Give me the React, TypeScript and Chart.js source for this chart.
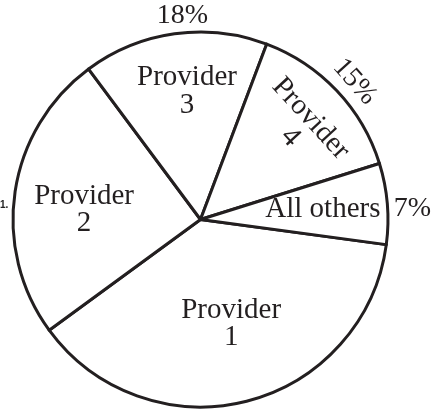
import React, { useEffect, useRef } from 'react';
import { Chart, ArcElement, PieController } from 'chart.js';

Chart.register(ArcElement, PieController);

// slices, clockwise from Provider 1
const categories = ['Provider 1', 'Provider 2', 'Provider 3', 'Provider 4', 'All others'];
const shares = [38, 25, 16, 14.5, 7];
const percentLabels = ['', '', '18%', '15%', '7%'];
const sliceLines = [['Provider', '1'], ['Provider', '2'], ['Provider', '3'], ['Provider', '4'], ['All others']];

const ink = '#231f20';

// where the text sits: angle nudge (deg) from slice middle, radius as part of outer radius
const innerPlace = [
  { da: -2.1, r: 0.581, turn: false },
  { da: -3.9, r: 0.623, turn: false },
  { da: 1.95, r: 0.686, turn: false },
  { da: 0.83, r: 0.723, turn: true },
  { da: 0, r: 0.655, turn: false },
];
const outerPlace = [
  { da: 0, r: 1.1, turn: false },
  { da: 0, r: 1.1, turn: false },
  { da: 2.9, r: 1.091, turn: false },
  { da: 1.6, r: 1.103, turn: true },
  { da: 2.0, r: 1.132, turn: false },
];

const sliceText = {
  id: 'sliceText',
  afterDatasetsDraw(chart: any) {
    const ctx = chart.ctx as CanvasRenderingContext2D;
    const arcs = chart.getDatasetMeta(0).data;
    const put = (arc: any, lines: string[], place: any, font: string) => {
      const { x, y, startAngle, endAngle, outerRadius } = arc.getProps(
        ['x', 'y', 'startAngle', 'endAngle', 'outerRadius'],
        true
      );
      const a = (startAngle + endAngle) / 2 + (place.da * Math.PI) / 180;
      const px = x + Math.cos(a) * outerRadius * place.r;
      const py = y + Math.sin(a) * outerRadius * place.r;
      ctx.save();
      ctx.translate(px, py);
      if (place.turn) ctx.rotate(a + Math.PI / 2);
      ctx.font = font;
      ctx.fillStyle = ink;
      ctx.textAlign = 'center';
      ctx.textBaseline = 'middle';
      const lh = 27.5;
      lines.forEach((line, k) => {
        ctx.fillText(line, 0, (k - (lines.length - 1) / 2) * lh);
      });
      ctx.restore();
    };
    arcs.forEach((arc: any, i: number) => {
      put(arc, sliceLines[i], innerPlace[i], '29px "Liberation Serif"');
      if (percentLabels[i]) put(arc, [percentLabels[i]], outerPlace[i], '28px "Liberation Serif"');
    });
  },
};

const PieChart: React.FC = () => {
  const chartRef = useRef<HTMLCanvasElement>(null);

  useEffect(() => {
    if (!chartRef.current) return;
    const context = chartRef.current.getContext('2d');
    if (!context) return;

    const pie = new Chart(context, {
      type: 'pie',
      data: {
        labels: categories,
        datasets: [
          {
            data: shares,
            backgroundColor: '#ffffff',
            borderColor: ink,
            borderWidth: 3,
            borderJoinStyle: 'round',
          },
        ],
      },
      options: {
        animation: false,
        responsive: true,
        maintainAspectRatio: false,
        events: [],
        rotation: 97.7,
        radius: 187.5,
        layout: { padding: { left: 0, right: 43, top: 25, bottom: 0 } },
        plugins: {
          legend: { display: false },
          tooltip: { enabled: false },
        },
      } as any,
      plugins: [sliceText],
    });

    return () => {
      pie.destroy();
    };
  }, []);

  return (
    <div style={{ position: 'absolute', left: 0, top: 0, width: 444, height: 414, background: '#fff' }}>
      <canvas ref={chartRef} />
      <span
        style={{
          position: 'absolute',
          left: 0,
          top: 199,
          font: 'bold 10px "Liberation Sans"',
          lineHeight: '11px',
          color: '#222',
        }}
      >
        1.
      </span>
    </div>
  );
};

export default PieChart;
